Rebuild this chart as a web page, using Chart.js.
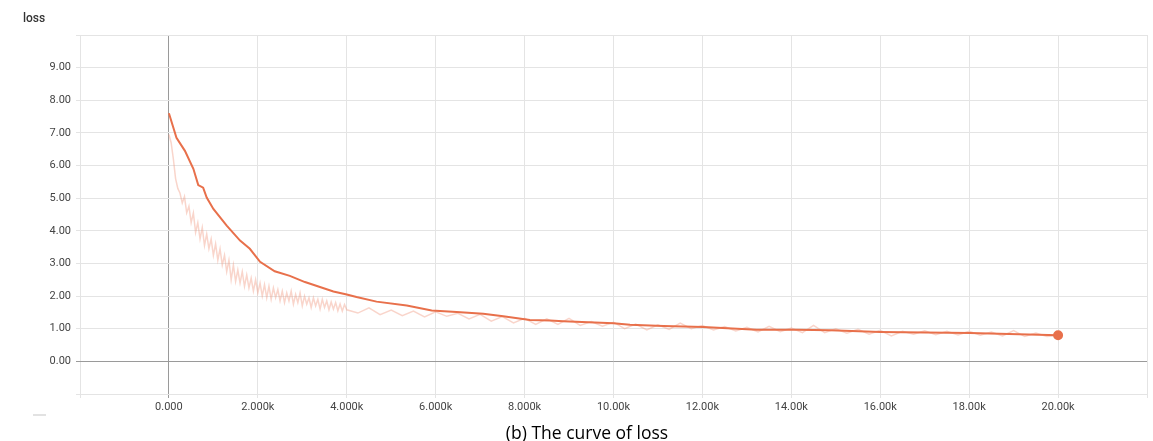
<!DOCTYPE html>
<html>
<head>
<meta charset="utf-8">
<script src="https://cdn.jsdelivr.net/npm/chart.js@4"></script>
<style>
  html, body { margin: 0; padding: 0; background: #fff; }
  #wrap { position: relative; width: 1153px; height: 441px; }
  #lossLabel { position: absolute; left: 23px; top: 11px; font: 500 12px Roboto, Arial, sans-serif; color: #333; }
  #caption { position: absolute; left: 0; width: 1174px; top: 420px; text-align: center; font: 17.5px "Open Sans", sans-serif; color: #000; }
  #dash { position: absolute; left: 33px; top: 414px; width: 13px; height: 2px; background: #e2e2e2; }
</style>
</head>
<body>
<div id="wrap">
  <canvas id="chart" width="1153" height="441"></canvas>
  <div id="lossLabel">loss</div>
  <div id="dash"></div>
  <div id="caption">(b) The curve of loss</div>
</div>
<script>
// smoothed curve (step, loss)
const smoothSteps = [0, 170, 360, 550, 660, 770, 850, 1000, 1300, 1600, 1820, 2050, 2380, 2720, 3060, 3700, 4000, 4220, 4670, 5350, 5910, 6470, 7070, 7520, 8120, 8570, 8870, 10000, 10370, 11120, 12020, 13220, 14120, 14870, 16000, 18020, 20000];
const smoothLoss = [7.6, 6.85, 6.45, 5.9, 5.4, 5.32, 5.02, 4.67, 4.16, 3.7, 3.45, 3.05, 2.76, 2.62, 2.43, 2.14, 2.05, 1.97, 1.83, 1.71, 1.56, 1.51, 1.46, 1.38, 1.27, 1.25, 1.23, 1.17, 1.12, 1.08, 1.05, 0.97, 0.97, 0.95, 0.9, 0.87, 0.8];

// raw (unsmoothed) loss
const rawSteps = [
  0, 50, 100, 150, 200, 250, 300, 350, 400, 450, 500, 550, 600, 650, 700, 750, 800, 850, 900, 950,
  1000, 1050, 1100, 1150, 1200, 1250, 1300, 1350, 1400, 1450, 1500, 1550, 1600, 1650, 1700, 1750, 1800, 1850, 1900, 1950,
  2000, 2050, 2100, 2150, 2200, 2250, 2300, 2350, 2400, 2450, 2500, 2550, 2600, 2650, 2700, 2750, 2800, 2850, 2900, 2950,
  3000, 3050, 3100, 3150, 3200, 3250, 3300, 3350, 3400, 3450, 3500, 3550, 3600, 3650, 3700, 3750, 3800, 3850, 3900, 3950,
  4000, 4250, 4500, 4750, 5000, 5250, 5500, 5750, 6000, 6250, 6500, 6750, 7000, 7250, 7500, 7750,
  8000, 8250, 8500, 8750, 9000, 9250, 9500, 9750, 10000, 10250, 10500, 10750, 11000, 11250, 11500, 11750,
  12000, 12250, 12500, 12750, 13000, 13250, 13500, 13750, 14000, 14250, 14500, 14750, 15000, 15250, 15500, 15750,
  16000, 16250, 16500, 16750, 17000, 17250, 17500, 17750, 18000, 18250, 18500, 18750, 19000, 19250, 19500, 19750, 20000
];
const rawLoss = [
  6.95, 6.7, 6.2, 5.6, 5.3, 5.15, 4.85, 5.05, 4.55, 4.75, 4.25, 4.55, 3.95, 4.25, 3.75, 4.1, 3.55, 3.9, 3.45, 3.75,
  3.25, 3.6, 3.1, 3.45, 2.95, 3.25, 2.75, 3.1, 2.5, 2.95, 2.45, 2.8, 2.4, 2.75, 2.3, 2.65, 2.25, 2.55, 2.15, 2.5,
  2.1, 2.4, 2.0, 2.35, 1.95, 2.3, 1.9, 2.25, 1.95, 2.2, 1.85, 2.15, 1.8, 2.1, 1.85, 2.15, 1.75, 2.05, 1.8, 2.1,
  1.7, 2.0, 1.75, 1.95, 1.65, 1.95, 1.7, 1.9, 1.6, 1.9, 1.65, 1.85, 1.58, 1.82, 1.6, 1.8, 1.55, 1.76, 1.54, 1.74,
  1.58, 1.48, 1.64, 1.43, 1.57, 1.4, 1.54, 1.36, 1.52, 1.38, 1.47, 1.3, 1.44, 1.23, 1.37, 1.18,
  1.32, 1.13, 1.3, 1.13, 1.32, 1.1, 1.22, 1.08, 1.2, 1.0, 1.14, 0.96, 1.12, 0.98, 1.17, 1.0,
  1.1, 0.96, 1.07, 0.93, 1.04, 0.9, 1.07, 0.91, 1.02, 0.88, 1.1, 0.88, 1.0, 0.86, 0.98, 0.83,
  0.95, 0.78, 0.92, 0.83, 0.94, 0.82, 0.92, 0.81, 0.92, 0.8, 0.9, 0.78, 0.94, 0.76, 0.87, 0.76, 0.8
];

const toPoints = (xs, ys) => xs.map((x, i) => ({ x: x, y: ys[i] }));

const formatStep = (v) => {
  if (v === 0) return "0.000";
  if (v < 0 || v > 20000) return "";
  return (v / 1000).toPrecision(4) + "k";
};

const gridColor = (ctx) => (ctx.tick && ctx.tick.value === 0 ? "#9a9a9a" : "#e4e4e4");

const canvas = document.getElementById("chart");

new Chart(canvas, {
  type: "line",
  data: {
    datasets: [
      {
        label: "smoothed",
        data: toPoints(smoothSteps, smoothLoss),
        borderColor: "#e8704b",
        backgroundColor: "#e8704b",
        borderWidth: 2,
        tension: 0,
        pointRadius: (ctx) => (ctx.dataIndex === smoothSteps.length - 1 ? 4 : 0),
        order: 0,
      },
      {
        label: "raw",
        data: toPoints(rawSteps, rawLoss),
        borderColor: "rgba(240, 150, 125, 0.4)",
        borderWidth: 1.5,
        tension: 0,
        pointRadius: 0,
        order: 1,
      },
    ],
  },
  options: {
    responsive: false,
    animation: false,
    layout: { padding: { left: 0, top: 35, right: 6, bottom: 0 } },
    plugins: { legend: { display: false }, tooltip: { enabled: false } },
    scales: {
      x: {
        type: "linear",
        min: -2000,
        max: 22000,
        afterFit: (scale) => { scale.height = 47; },
        ticks: {
          stepSize: 2000,
          autoSkip: false,
          maxRotation: 0,
          padding: 3,
          color: "#444",
          font: { family: "Roboto, Arial, sans-serif", size: 11 },
          callback: (v) => formatStep(v),
        },
        grid: { color: gridColor, tickLength: 4, lineWidth: 1 },
        border: { display: false },
      },
      y: {
        type: "linear",
        min: -1,
        max: 10,
        afterFit: (scale) => { scale.width = 80; },
        ticks: {
          stepSize: 1,
          padding: 5,
          color: "#444",
          font: { family: "Roboto, Arial, sans-serif", size: 11 },
          callback: (v) => (v < 0 || v > 9 ? "" : v.toFixed(2)),
        },
        grid: { color: gridColor, tickLength: 4, lineWidth: 1 },
        border: { display: false },
      },
    },
  },
});
</script>
</body>
</html>
